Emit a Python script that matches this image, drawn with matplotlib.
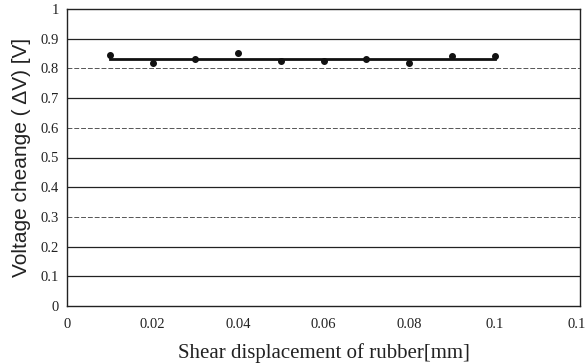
import matplotlib
matplotlib.use("Agg")
import matplotlib.pyplot as plt

# measured output vs. shear displacement
shear_mm = [0.01, 0.02, 0.03, 0.04, 0.05, 0.06, 0.07, 0.08, 0.09, 0.10]
voltage_v = [0.845, 0.818, 0.832, 0.852, 0.825, 0.825, 0.832, 0.818, 0.842, 0.842]
fit_level = 0.832

x_ticks = [0, 0.02, 0.04, 0.06, 0.08, 0.1, 0.12]
x_labels = ["0", "0.02", "0.04", "0.06", "0.08", "0.1", "0.12"]
y_ticks = [0, 0.1, 0.2, 0.3, 0.4, 0.5, 0.6, 0.7, 0.8, 0.9, 1]
y_labels = ["0", "0.1", "0.2", "0.3", "0.4", "0.5", "0.6", "0.7", "0.8", "0.9", "1"]

plt.rcParams['font.family'] = ['Liberation Serif', 'DejaVu Serif']

fig = plt.figure(figsize=(5.86, 3.64), dpi=100)
ax = fig.add_axes([67/586, 58/364, 513/586, 297/364])

# horizontal grid, some lines printed lighter / broken
for y in y_ticks[1:-1]:
    if y in (0.8, 0.3, 0.6):
        ax.axhline(y, color='#555555', lw=0.7, ls=(0, (5, 2)), zorder=1)
    else:
        ax.axhline(y, color='#222222', lw=0.9, zorder=1)

ax.plot([shear_mm[0], shear_mm[-1]], [fit_level, fit_level], color='#111111', lw=2, zorder=2)
ax.scatter(shear_mm, voltage_v, s=16, color='#111111', zorder=3)

ax.set_xlim(0, 0.12)
ax.set_ylim(0, 1)
ax.set_xticks(x_ticks)
ax.set_xticklabels(x_labels)
ax.set_yticks(y_ticks)
ax.set_yticklabels(y_labels)
ax.tick_params(length=0, labelsize=10.5, pad=6, colors='#222222')
ax.tick_params(axis='x', pad=9)
for s in ax.spines.values():
    s.set_color('#222222')
    s.set_linewidth(1.0)

ax.set_xlabel("Shear displacement of rubber[mm]", fontsize=15, labelpad=8, color='#222222')
ax.set_ylabel("Voltage cheange ( \u0394V) [V]", fontsize=15, labelpad=7, color='#222222',
              family=['Liberation Sans', 'DejaVu Sans'])

fig.savefig("out.png", dpi=100)
